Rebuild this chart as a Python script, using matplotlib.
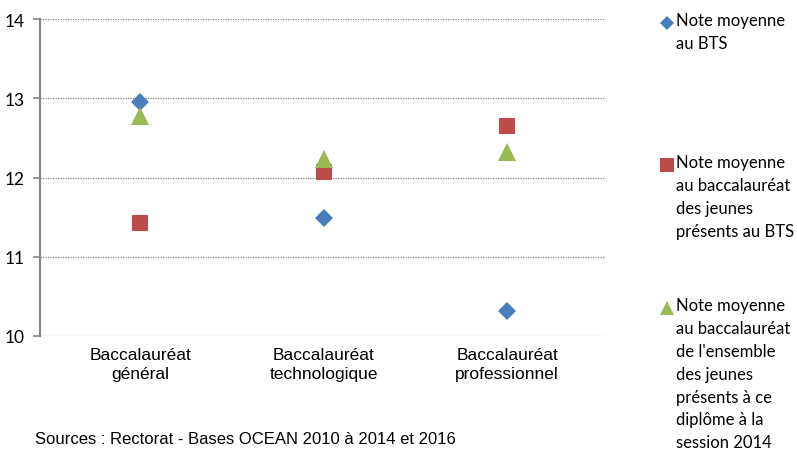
import matplotlib
matplotlib.use("Agg")
import matplotlib.pyplot as plt
from matplotlib.lines import Line2D

categories = ["Baccalauréat\ngénéral", "Baccalauréat\ntechnologique", "Baccalauréat\nprofessionnel"]
note_bts = [12.95, 11.49, 10.32]
note_bac_bts = [11.43, 12.07, 12.65]
note_bac_all = [12.78, 12.23, 12.32]

labels = [
    "Note moyenne\nau BTS",
    "Note moyenne\nau baccalauréat\ndes jeunes\nprésents au BTS",
    "Note moyenne\nau baccalauréat\nde l'ensemble\ndes jeunes\nprésents à ce\ndiplôme à la\nsession 2014",
]
colors = ["#4a7ebb", "#be4b48", "#98b954"]
markers = ["D", "s", "^"]
sizes = [9, 12, 13]

fig = plt.figure(figsize=(7.97, 4.52), dpi=100)
ax = fig.add_axes([40 / 797, 1 - 337 / 452, 565 / 797, 317 / 452])

x = list(range(len(categories)))
for vals, c, m, s in zip([note_bts, note_bac_bts, note_bac_all], colors, markers, sizes):
    ax.plot(x, vals, ls="none", marker=m, color=c, markersize=s, markeredgewidth=0, zorder=3)

ax.set_xlim(-0.545, 2.534)
ax.set_ylim(10, 14)
ax.set_yticks([10, 11, 12, 13, 14])
ax.grid(axis="y", ls=(0, (1, 1)), color="#808080", lw=0.9)
ax.set_axisbelow(True)
for side in ["top", "right", "bottom"]:
    ax.spines[side].set_visible(False)
ax.spines["left"].set_color("#868686")
ax.spines["left"].set_linewidth(1.5)
ax.tick_params(axis="y", length=5, width=1.2, color="#868686", labelsize=12.5, pad=6)
for t in ax.get_yticklabels():
    t.set_family("Lato")
ax.set_xticks(x)
ax.set_xticklabels(categories, family="Liberation Sans", fontsize=12.5, linespacing=1.35)
ax.tick_params(axis="x", length=0, pad=8)

# légende à droite
ys = [25, 167, 310]
for lab, c, m, s, y in zip(labels, colors, markers, sizes, ys):
    fig.add_artist(Line2D([667 / 797], [1 - (y - 1) / 452], transform=fig.transFigure,
                          marker=m, color=c, markersize=s * 0.8, markeredgewidth=0, ls="none"))
    fig.text(676 / 797, 1 - (y - 12) / 452, lab, family="Lato", fontsize=12,
             va="top", ha="left", linespacing=1.53)

fig.text(35 / 797, 1 - 440 / 452, "Sources : Rectorat - Bases OCEAN 2010 à 2014 et 2016",
         family="Liberation Sans", fontsize=12, va="center", ha="left")

fig.savefig("out.png", dpi=100)
